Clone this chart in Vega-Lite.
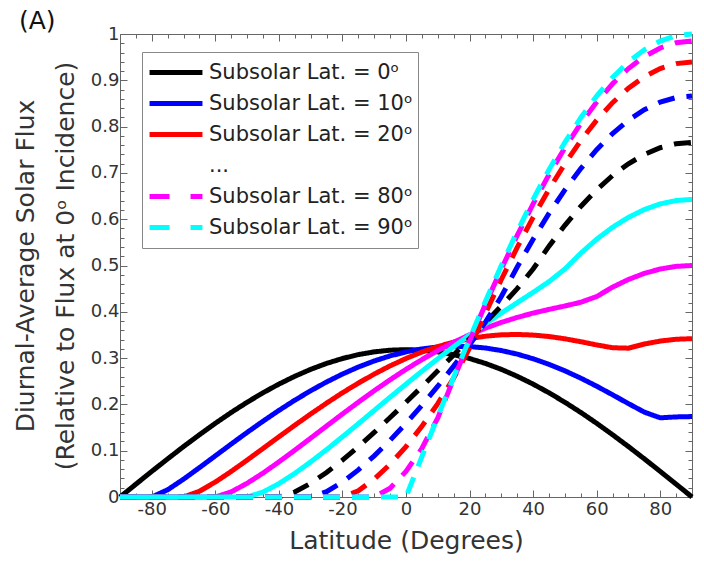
{
  "$schema": "https://vega.github.io/schema/vega-lite/v6.json",
  "autosize": {"type": "none"},
  "width": 572,
  "height": 463,
  "padding": {"left": 120, "top": 34, "right": 12, "bottom": 74},
  "background": "white",
  "title": {"text": "(A)", "anchor": "start", "frame": "group", "dx": -101, "dy": 35, "offset": 5, "baseline": "alphabetic", "fontSize": 25, "fontWeight": "normal", "color": "#111", "font": "DejaVu Sans"},
  "config": {
    "font": "DejaVu Sans",
    "view": {"stroke": "#666", "strokeWidth": 1},
    "axis": {"domain": false, "grid": false, "tickColor": "#666", "labelColor": "#333", "titleColor": "#333", "titleFontWeight": "normal"}
  },
  "datasets": {
    "curves": [
      {"lat":-90,"sub":0,"q":0},{"lat":-85,"sub":0,"q":0.0277},{"lat":-80,"sub":0,"q":0.0553},{"lat":-75,"sub":0,"q":0.0824},{"lat":-70,"sub":0,"q":0.1089},{"lat":-65,"sub":0,"q":0.1345},{"lat":-60,"sub":0,"q":0.1592},{"lat":-55,"sub":0,"q":0.1826},{"lat":-50,"sub":0,"q":0.2046},{"lat":-45,"sub":0,"q":0.2251},{"lat":-40,"sub":0,"q":0.2438},{"lat":-35,"sub":0,"q":0.2607},{"lat":-30,"sub":0,"q":0.2757},{"lat":-25,"sub":0,"q":0.2885},{"lat":-20,"sub":0,"q":0.2991},{"lat":-15,"sub":0,"q":0.3075},{"lat":-10,"sub":0,"q":0.3135},{"lat":-5,"sub":0,"q":0.3171},{"lat":0,"sub":0,"q":0.3183},{"lat":5,"sub":0,"q":0.3171},{"lat":10,"sub":0,"q":0.3135},{"lat":15,"sub":0,"q":0.3075},{"lat":20,"sub":0,"q":0.2991},{"lat":25,"sub":0,"q":0.2885},{"lat":30,"sub":0,"q":0.2757},{"lat":35,"sub":0,"q":0.2607},{"lat":40,"sub":0,"q":0.2438},{"lat":45,"sub":0,"q":0.2251},{"lat":50,"sub":0,"q":0.2046},{"lat":55,"sub":0,"q":0.1826},{"lat":60,"sub":0,"q":0.1592},{"lat":65,"sub":0,"q":0.1345},{"lat":70,"sub":0,"q":0.1089},{"lat":75,"sub":0,"q":0.0824},{"lat":80,"sub":0,"q":0.0553},{"lat":85,"sub":0,"q":0.0277},{"lat":90,"sub":0,"q":0},
      {"lat":-90,"sub":10,"q":0},{"lat":-85,"sub":10,"q":0},{"lat":-80,"sub":10,"q":0},{"lat":-75,"sub":10,"q":0.0156},{"lat":-70,"sub":10,"q":0.0385},{"lat":-65,"sub":10,"q":0.0634},{"lat":-60,"sub":10,"q":0.0889},{"lat":-55,"sub":10,"q":0.1144},{"lat":-50,"sub":10,"q":0.1395},{"lat":-45,"sub":10,"q":0.1637},{"lat":-40,"sub":10,"q":0.187},{"lat":-35,"sub":10,"q":0.209},{"lat":-30,"sub":10,"q":0.2295},{"lat":-25,"sub":10,"q":0.2484},{"lat":-20,"sub":10,"q":0.2655},{"lat":-15,"sub":10,"q":0.2807},{"lat":-10,"sub":10,"q":0.2938},{"lat":-5,"sub":10,"q":0.3048},{"lat":0,"sub":10,"q":0.3135},{"lat":5,"sub":10,"q":0.3199},{"lat":10,"sub":10,"q":0.3239},{"lat":15,"sub":10,"q":0.3256},{"lat":20,"sub":10,"q":0.3249},{"lat":25,"sub":10,"q":0.3218},{"lat":30,"sub":10,"q":0.3163},{"lat":35,"sub":10,"q":0.3086},{"lat":40,"sub":10,"q":0.2986},{"lat":45,"sub":10,"q":0.2865},{"lat":50,"sub":10,"q":0.2725},{"lat":55,"sub":10,"q":0.2567},{"lat":60,"sub":10,"q":0.2393},{"lat":65,"sub":10,"q":0.2208},{"lat":70,"sub":10,"q":0.2017},{"lat":75,"sub":10,"q":0.1833},{"lat":80,"sub":10,"q":0.171},{"lat":85,"sub":10,"q":0.173},{"lat":90,"sub":10,"q":0.1737},
      {"lat":-90,"sub":20,"q":0},{"lat":-85,"sub":20,"q":0},{"lat":-80,"sub":20,"q":0},{"lat":-75,"sub":20,"q":0},{"lat":-70,"sub":20,"q":0},{"lat":-65,"sub":20,"q":0.0124},{"lat":-60,"sub":20,"q":0.0323},{"lat":-55,"sub":20,"q":0.0552},{"lat":-50,"sub":20,"q":0.0797},{"lat":-45,"sub":20,"q":0.1048},{"lat":-40,"sub":20,"q":0.13},{"lat":-35,"sub":20,"q":0.1549},{"lat":-30,"sub":20,"q":0.1793},{"lat":-25,"sub":20,"q":0.2027},{"lat":-20,"sub":20,"q":0.2251},{"lat":-15,"sub":20,"q":0.246},{"lat":-10,"sub":20,"q":0.2655},{"lat":-5,"sub":20,"q":0.2832},{"lat":0,"sub":20,"q":0.2991},{"lat":5,"sub":20,"q":0.313},{"lat":10,"sub":20,"q":0.3249},{"lat":15,"sub":20,"q":0.3346},{"lat":20,"sub":20,"q":0.342},{"lat":25,"sub":20,"q":0.3473},{"lat":30,"sub":20,"q":0.3503},{"lat":35,"sub":20,"q":0.3511},{"lat":40,"sub":20,"q":0.3498},{"lat":45,"sub":20,"q":0.3466},{"lat":50,"sub":20,"q":0.3417},{"lat":55,"sub":20,"q":0.3354},{"lat":60,"sub":20,"q":0.3285},{"lat":65,"sub":20,"q":0.3224},{"lat":70,"sub":20,"q":0.3214},{"lat":75,"sub":20,"q":0.3304},{"lat":80,"sub":20,"q":0.3368},{"lat":85,"sub":20,"q":0.3407},{"lat":90,"sub":20,"q":0.342},
      {"lat":-90,"sub":30,"q":0},{"lat":-85,"sub":30,"q":0},{"lat":-80,"sub":30,"q":0},{"lat":-75,"sub":30,"q":0},{"lat":-70,"sub":30,"q":0},{"lat":-65,"sub":30,"q":0},{"lat":-60,"sub":30,"q":0},{"lat":-55,"sub":30,"q":0.0111},{"lat":-50,"sub":30,"q":0.0296},{"lat":-45,"sub":30,"q":0.0516},{"lat":-40,"sub":30,"q":0.0758},{"lat":-35,"sub":30,"q":0.1011},{"lat":-30,"sub":30,"q":0.1271},{"lat":-25,"sub":30,"q":0.1533},{"lat":-20,"sub":30,"q":0.1793},{"lat":-15,"sub":30,"q":0.2048},{"lat":-10,"sub":30,"q":0.2295},{"lat":-5,"sub":30,"q":0.2532},{"lat":0,"sub":30,"q":0.2757},{"lat":5,"sub":30,"q":0.2968},{"lat":10,"sub":30,"q":0.3163},{"lat":15,"sub":30,"q":0.3342},{"lat":20,"sub":30,"q":0.3503},{"lat":25,"sub":30,"q":0.3646},{"lat":30,"sub":30,"q":0.3771},{"lat":35,"sub":30,"q":0.3879},{"lat":40,"sub":30,"q":0.3972},{"lat":45,"sub":30,"q":0.4052},{"lat":50,"sub":30,"q":0.4126},{"lat":55,"sub":30,"q":0.4206},{"lat":60,"sub":30,"q":0.433},{"lat":65,"sub":30,"q":0.4532},{"lat":70,"sub":30,"q":0.4698},{"lat":75,"sub":30,"q":0.483},{"lat":80,"sub":30,"q":0.4924},{"lat":85,"sub":30,"q":0.4981},{"lat":90,"sub":30,"q":0.5},
      {"lat":-90,"sub":40,"q":0},{"lat":-85,"sub":40,"q":0},{"lat":-80,"sub":40,"q":0},{"lat":-75,"sub":40,"q":0},{"lat":-70,"sub":40,"q":0},{"lat":-65,"sub":40,"q":0},{"lat":-60,"sub":40,"q":0},{"lat":-55,"sub":40,"q":0},{"lat":-50,"sub":40,"q":0},{"lat":-45,"sub":40,"q":0.0106},{"lat":-40,"sub":40,"q":0.0288},{"lat":-35,"sub":40,"q":0.051},{"lat":-30,"sub":40,"q":0.0758},{"lat":-25,"sub":40,"q":0.1023},{"lat":-20,"sub":40,"q":0.13},{"lat":-15,"sub":40,"q":0.1583},{"lat":-10,"sub":40,"q":0.187},{"lat":-5,"sub":40,"q":0.2156},{"lat":0,"sub":40,"q":0.2438},{"lat":5,"sub":40,"q":0.2716},{"lat":10,"sub":40,"q":0.2986},{"lat":15,"sub":40,"q":0.3247},{"lat":20,"sub":40,"q":0.3498},{"lat":25,"sub":40,"q":0.374},{"lat":30,"sub":40,"q":0.3972},{"lat":35,"sub":40,"q":0.4197},{"lat":40,"sub":40,"q":0.442},{"lat":45,"sub":40,"q":0.4651},{"lat":50,"sub":40,"q":0.4924},{"lat":55,"sub":40,"q":0.5265},{"lat":60,"sub":40,"q":0.5567},{"lat":65,"sub":40,"q":0.5826},{"lat":70,"sub":40,"q":0.604},{"lat":75,"sub":40,"q":0.6209},{"lat":80,"sub":40,"q":0.633},{"lat":85,"sub":40,"q":0.6403},{"lat":90,"sub":40,"q":0.6428},
      {"lat":-90,"sub":50,"q":0},{"lat":-85,"sub":50,"q":0},{"lat":-80,"sub":50,"q":0},{"lat":-75,"sub":50,"q":0},{"lat":-70,"sub":50,"q":0},{"lat":-65,"sub":50,"q":0},{"lat":-60,"sub":50,"q":0},{"lat":-55,"sub":50,"q":0},{"lat":-50,"sub":50,"q":0},{"lat":-45,"sub":50,"q":0},{"lat":-40,"sub":50,"q":0},{"lat":-35,"sub":50,"q":0.0107},{"lat":-30,"sub":50,"q":0.0296},{"lat":-25,"sub":50,"q":0.053},{"lat":-20,"sub":50,"q":0.0797},{"lat":-15,"sub":50,"q":0.1087},{"lat":-10,"sub":50,"q":0.1395},{"lat":-5,"sub":50,"q":0.1716},{"lat":0,"sub":50,"q":0.2046},{"lat":5,"sub":50,"q":0.2383},{"lat":10,"sub":50,"q":0.2725},{"lat":15,"sub":50,"q":0.3069},{"lat":20,"sub":50,"q":0.3417},{"lat":25,"sub":50,"q":0.3768},{"lat":30,"sub":50,"q":0.4126},{"lat":35,"sub":50,"q":0.4501},{"lat":40,"sub":50,"q":0.4924},{"lat":45,"sub":50,"q":0.5417},{"lat":50,"sub":50,"q":0.5868},{"lat":55,"sub":50,"q":0.6275},{"lat":60,"sub":50,"q":0.6634},{"lat":65,"sub":50,"q":0.6943},{"lat":70,"sub":50,"q":0.7198},{"lat":75,"sub":50,"q":0.7399},{"lat":80,"sub":50,"q":0.7544},{"lat":85,"sub":50,"q":0.7631},{"lat":90,"sub":50,"q":0.766},
      {"lat":-90,"sub":60,"q":0},{"lat":-85,"sub":60,"q":0},{"lat":-80,"sub":60,"q":0},{"lat":-75,"sub":60,"q":0},{"lat":-70,"sub":60,"q":0},{"lat":-65,"sub":60,"q":0},{"lat":-60,"sub":60,"q":0},{"lat":-55,"sub":60,"q":0},{"lat":-50,"sub":60,"q":0},{"lat":-45,"sub":60,"q":0},{"lat":-40,"sub":60,"q":0},{"lat":-35,"sub":60,"q":0},{"lat":-30,"sub":60,"q":0},{"lat":-25,"sub":60,"q":0.0116},{"lat":-20,"sub":60,"q":0.0323},{"lat":-15,"sub":60,"q":0.0585},{"lat":-10,"sub":60,"q":0.0889},{"lat":-5,"sub":60,"q":0.1226},{"lat":0,"sub":60,"q":0.1592},{"lat":5,"sub":60,"q":0.1981},{"lat":10,"sub":60,"q":0.2393},{"lat":15,"sub":60,"q":0.2827},{"lat":20,"sub":60,"q":0.3285},{"lat":25,"sub":60,"q":0.3776},{"lat":30,"sub":60,"q":0.433},{"lat":35,"sub":60,"q":0.4967},{"lat":40,"sub":60,"q":0.5567},{"lat":45,"sub":60,"q":0.6124},{"lat":50,"sub":60,"q":0.6634},{"lat":55,"sub":60,"q":0.7094},{"lat":60,"sub":60,"q":0.75},{"lat":65,"sub":60,"q":0.7849},{"lat":70,"sub":60,"q":0.8138},{"lat":75,"sub":60,"q":0.8365},{"lat":80,"sub":60,"q":0.8529},{"lat":85,"sub":60,"q":0.8627},{"lat":90,"sub":60,"q":0.866},
      {"lat":-90,"sub":70,"q":0},{"lat":-85,"sub":70,"q":0},{"lat":-80,"sub":70,"q":0},{"lat":-75,"sub":70,"q":0},{"lat":-70,"sub":70,"q":0},{"lat":-65,"sub":70,"q":0},{"lat":-60,"sub":70,"q":0},{"lat":-55,"sub":70,"q":0},{"lat":-50,"sub":70,"q":0},{"lat":-45,"sub":70,"q":0},{"lat":-40,"sub":70,"q":0},{"lat":-35,"sub":70,"q":0},{"lat":-30,"sub":70,"q":0},{"lat":-25,"sub":70,"q":0},{"lat":-20,"sub":70,"q":0},{"lat":-15,"sub":70,"q":0.0136},{"lat":-10,"sub":70,"q":0.0385},{"lat":-5,"sub":70,"q":0.0707},{"lat":0,"sub":70,"q":0.1089},{"lat":5,"sub":70,"q":0.1526},{"lat":10,"sub":70,"q":0.2017},{"lat":15,"sub":70,"q":0.2568},{"lat":20,"sub":70,"q":0.3214},{"lat":25,"sub":70,"q":0.3971},{"lat":30,"sub":70,"q":0.4698},{"lat":35,"sub":70,"q":0.539},{"lat":40,"sub":70,"q":0.604},{"lat":45,"sub":70,"q":0.6645},{"lat":50,"sub":70,"q":0.7198},{"lat":55,"sub":70,"q":0.7698},{"lat":60,"sub":70,"q":0.8138},{"lat":65,"sub":70,"q":0.8517},{"lat":70,"sub":70,"q":0.883},{"lat":75,"sub":70,"q":0.9077},{"lat":80,"sub":70,"q":0.9254},{"lat":85,"sub":70,"q":0.9361},{"lat":90,"sub":70,"q":0.9397},
      {"lat":-90,"sub":80,"q":0},{"lat":-85,"sub":80,"q":0},{"lat":-80,"sub":80,"q":0},{"lat":-75,"sub":80,"q":0},{"lat":-70,"sub":80,"q":0},{"lat":-65,"sub":80,"q":0},{"lat":-60,"sub":80,"q":0},{"lat":-55,"sub":80,"q":0},{"lat":-50,"sub":80,"q":0},{"lat":-45,"sub":80,"q":0},{"lat":-40,"sub":80,"q":0},{"lat":-35,"sub":80,"q":0},{"lat":-30,"sub":80,"q":0},{"lat":-25,"sub":80,"q":0},{"lat":-20,"sub":80,"q":0},{"lat":-15,"sub":80,"q":0},{"lat":-10,"sub":80,"q":0},{"lat":-5,"sub":80,"q":0.0191},{"lat":0,"sub":80,"q":0.0553},{"lat":5,"sub":80,"q":0.1049},{"lat":10,"sub":80,"q":0.171},{"lat":15,"sub":80,"q":0.2549},{"lat":20,"sub":80,"q":0.3368},{"lat":25,"sub":80,"q":0.4162},{"lat":30,"sub":80,"q":0.4924},{"lat":35,"sub":80,"q":0.5649},{"lat":40,"sub":80,"q":0.633},{"lat":45,"sub":80,"q":0.6964},{"lat":50,"sub":80,"q":0.7544},{"lat":55,"sub":80,"q":0.8067},{"lat":60,"sub":80,"q":0.8529},{"lat":65,"sub":80,"q":0.8925},{"lat":70,"sub":80,"q":0.9254},{"lat":75,"sub":80,"q":0.9513},{"lat":80,"sub":80,"q":0.9699},{"lat":85,"sub":80,"q":0.9811},{"lat":90,"sub":80,"q":0.9848},
      {"lat":-90,"sub":90,"q":0},{"lat":-85,"sub":90,"q":0},{"lat":-80,"sub":90,"q":0},{"lat":-75,"sub":90,"q":0},{"lat":-70,"sub":90,"q":0},{"lat":-65,"sub":90,"q":0},{"lat":-60,"sub":90,"q":0},{"lat":-55,"sub":90,"q":0},{"lat":-50,"sub":90,"q":0},{"lat":-45,"sub":90,"q":0},{"lat":-40,"sub":90,"q":0},{"lat":-35,"sub":90,"q":0},{"lat":-30,"sub":90,"q":0},{"lat":-25,"sub":90,"q":0},{"lat":-20,"sub":90,"q":0},{"lat":-15,"sub":90,"q":0},{"lat":-10,"sub":90,"q":0},{"lat":-5,"sub":90,"q":0},{"lat":0,"sub":90,"q":0},{"lat":5,"sub":90,"q":0.0872},{"lat":10,"sub":90,"q":0.1736},{"lat":15,"sub":90,"q":0.2588},{"lat":20,"sub":90,"q":0.342},{"lat":25,"sub":90,"q":0.4226},{"lat":30,"sub":90,"q":0.5},{"lat":35,"sub":90,"q":0.5736},{"lat":40,"sub":90,"q":0.6428},{"lat":45,"sub":90,"q":0.7071},{"lat":50,"sub":90,"q":0.766},{"lat":55,"sub":90,"q":0.8192},{"lat":60,"sub":90,"q":0.866},{"lat":65,"sub":90,"q":0.9063},{"lat":70,"sub":90,"q":0.9397},{"lat":75,"sub":90,"q":0.9659},{"lat":80,"sub":90,"q":0.9848},{"lat":85,"sub":90,"q":0.9962},{"lat":90,"sub":90,"q":1}
    ],
    "legendRows": [
      {"label": "Subsolar Lat. = 0ᵒ"},
      {"label": "Subsolar Lat. = 10ᵒ"},
      {"label": "Subsolar Lat. = 20ᵒ"},
      {"label": "..."},
      {"label": "Subsolar Lat. = 80ᵒ"},
      {"label": "Subsolar Lat. = 90ᵒ"}
    ]
  },
  "layer": [
    {
      "data": {"name": "curves"},
      "mark": {"type": "line", "strokeWidth": 5, "clip": false},
      "encoding": {
        "x": {"field": "lat", "type": "quantitative",
          "scale": {"domain": [-90, 90], "nice": false, "zero": false},
          "axis": {"orient": "bottom",
            "values": [-90,-85,-80,-75,-70,-65,-60,-55,-50,-45,-40,-35,-30,-25,-20,-15,-10,-5,0,5,10,15,20,25,30,35,40,45,50,55,60,65,70,75,80,85,90],
            "labelExpr": "datum.value % 20 === 0 ? (datum.value < 0 ? '-' + abs(datum.value) : '' + datum.value) : ''",
            "tickSize": {"condition": {"test": "datum.value % 20 === 0", "value": -7}, "value": -4},
            "labelFontSize": 18, "labelPadding": 10,
            "title": "Latitude (Degrees)", "titleFontSize": 25, "titlePadding": 10}},
        "y": {"field": "q", "type": "quantitative",
          "scale": {"domain": [0, 1], "nice": false},
          "axis": {"orient": "left",
            "values": [0,0.02,0.04,0.06,0.08,0.1,0.12,0.14,0.16,0.18,0.2,0.22,0.24,0.26,0.28,0.3,0.32,0.34,0.36,0.38,0.4,0.42,0.44,0.46,0.48,0.5,0.52,0.54,0.56,0.58,0.6,0.62,0.64,0.66,0.68,0.7,0.72,0.74,0.76,0.78,0.8,0.82,0.84,0.86,0.88,0.9,0.92,0.94,0.96,0.98,1],
            "labelExpr": "round(datum.value * 50) % 5 === 0 ? format(datum.value, '.1~f') : ''",
            "tickSize": {"condition": {"test": "round(datum.value * 50) % 5 === 0", "value": -7}, "value": -4},
            "labelFontSize": 18, "labelPadding": 8,
            "title": ["Diurnal-Average Solar Flux", "(Relative to Flux at 0ᵒ Incidence)"],
            "titleFontSize": 25, "titleLineHeight": 40, "titlePadding": 12}},
        "color": {"field": "sub", "type": "nominal", "legend": null,
          "scale": {"domain": [0,10,20,30,40,50,60,70,80,90],
            "range": ["#000000","#0000ff","#ff0000","#ff00ff","#00ffff","#000000","#0000ff","#ff0000","#ff00ff","#00ffff"]}},
        "strokeDash": {"field": "sub", "type": "nominal", "legend": null,
          "scale": {"domain": [0,10,20,30,40,50,60,70,80,90],
            "range": [[1,0],[1,0],[1,0],[1,0],[1,0],[17,12],[17,12],[17,12],[17,12],[17,12]]}},
        "order": {"field": "lat", "type": "quantitative"}
      }
    },
    {
      "data": {"name": "legendRows"},
      "mark": {"type": "line", "strokeWidth": 5},
      "encoding": {
        "x": {"datum": 0, "type": "quantitative", "axis": null},
        "y": {"datum": 0, "type": "quantitative", "axis": null},
        "color": {"field": "label", "type": "nominal",
          "scale": {"domain": ["Subsolar Lat. = 0ᵒ","Subsolar Lat. = 10ᵒ","Subsolar Lat. = 20ᵒ","...","Subsolar Lat. = 80ᵒ","Subsolar Lat. = 90ᵒ"],
            "range": ["#000000","#0000ff","#ff0000","rgba(0,0,0,0)","#ff00ff","#00ffff"]},
          "legend": {"orient": "none", "legendX": 22, "legendY": 18, "title": null, "symbolType": "stroke", "symbolSize": 2800, "symbolStrokeWidth": 5, "labelFontSize": 21, "labelColor": "#222", "labelLimit": 400, "strokeColor": "#888", "fillColor": "white", "padding": 5, "clipHeight": 31, "rowPadding": 0, "labelOffset": 4}},
        "strokeDash": {"field": "label", "type": "nominal",
          "scale": {"domain": ["Subsolar Lat. = 0ᵒ","Subsolar Lat. = 10ᵒ","Subsolar Lat. = 20ᵒ","...","Subsolar Lat. = 80ᵒ","Subsolar Lat. = 90ᵒ"],
            "range": [[1,0],[1,0],[1,0],[1,0],[20,21],[20,21]]},
          "legend": {"orient": "none", "legendX": 22, "legendY": 18, "title": null, "symbolType": "stroke", "symbolSize": 2800, "symbolStrokeWidth": 5, "labelFontSize": 21, "labelColor": "#222", "labelLimit": 400, "strokeColor": "#888", "fillColor": "white", "padding": 5, "clipHeight": 31, "rowPadding": 0, "labelOffset": 4}}
      }
    },
    {
      "data": {"values": [{}]},
      "mark": {"type": "point", "opacity": 0},
      "encoding": {
        "x": {"datum": 0, "type": "quantitative",
          "axis": {"orient": "top", "labels": false, "title": null,
            "values": [-90,-85,-80,-75,-70,-65,-60,-55,-50,-45,-40,-35,-30,-25,-20,-15,-10,-5,0,5,10,15,20,25,30,35,40,45,50,55,60,65,70,75,80,85,90],
            "tickSize": {"condition": {"test": "datum.value % 20 === 0", "value": -7}, "value": -4}}},
        "y": {"datum": 0, "type": "quantitative",
          "axis": {"orient": "right", "labels": false, "title": null,
            "values": [0,0.02,0.04,0.06,0.08,0.1,0.12,0.14,0.16,0.18,0.2,0.22,0.24,0.26,0.28,0.3,0.32,0.34,0.36,0.38,0.4,0.42,0.44,0.46,0.48,0.5,0.52,0.54,0.56,0.58,0.6,0.62,0.64,0.66,0.68,0.7,0.72,0.74,0.76,0.78,0.8,0.82,0.84,0.86,0.88,0.9,0.92,0.94,0.96,0.98,1],
            "tickSize": {"condition": {"test": "round(datum.value * 50) % 5 === 0", "value": -7}, "value": -4}}}
      }
    }
  ],
  "resolve": {
    "scale": {"color": "independent", "strokeDash": "independent"},
    "axis": {"x": "independent", "y": "independent"}
  }
}
